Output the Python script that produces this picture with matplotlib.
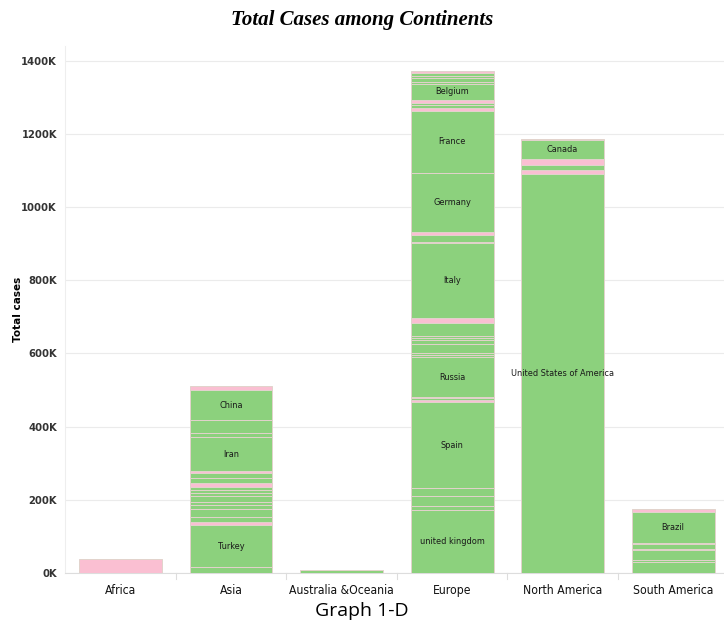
import matplotlib
matplotlib.use('Agg')
import matplotlib.pyplot as plt
import matplotlib.ticker as mtick
import matplotlib.transforms as mtrans

matplotlib.rcParams.update({'font.size': 9})

# continents along the x axis
continentes = ['Africa', 'Asia', 'Australia &Oceania', 'Europe', 'North America', 'South America']

# stacked segments per continent, bottom to top, in thousands of cases
# grupo: 0 = green, 1 = pink
africa_valores = [37]
africa_grupo = [1]
africa_nomes = ['']

asia_valores = [16, 115, 9, 14, 22, 10, 9, 14, 9, 9, 7, 13, 12, 14, 5, 93, 11, 35, 82, 13]
asia_grupo = [0, 0, 1, 0, 0, 0, 0, 0, 0, 0, 0, 1, 0, 0, 1, 0, 0, 0, 0, 1]
asia_nomes = ['', 'Turkey', '', '', '', '', '', '', '', '', '', '', '', '', '', 'Iran', '', '', 'China', '']

oceania_valores = [8]
oceania_grupo = [0]
oceania_nomes = ['']

europa_valores = [171, 11, 27, 22, 236, 5, 5, 5, 107, 7, 6, 23, 11, 7, 5, 36, 14, 203, 4, 18, 9,
                  161, 170, 7, 9, 4, 9, 45, 4, 11, 5, 9, 5]
europa_grupo = [0, 0, 0, 0, 0, 1, 0, 1, 0, 0, 0, 0, 0, 0, 0, 0, 1, 0, 0, 0, 1,
                0, 0, 1, 0, 0, 1, 0, 0, 0, 0, 0, 1]
europa_nomes = ['united kingdom', '', '', '', 'Spain', '', '', '', 'Russia', '', '', '', '', '', '', '', '', 'Italy',
                '', '', '', 'Germany', 'France', '', '', '', '', 'Belgium', '', '', '', '', '']

america_norte_valores = [1090, 12, 14, 14, 52, 3]
america_norte_grupo = [0, 1, 0, 1, 0, 1]
america_norte_nomes = ['United States of America', '', '', '', 'Canada', '']

america_sul_valores = [30, 5, 27, 3, 14, 4, 85, 7]
america_sul_grupo = [0, 0, 0, 0, 0, 0, 0, 1]
america_sul_nomes = ['', '', '', '', '', '', 'Brazil', '']

y_ticks = [0, 200, 400, 600, 800, 1000, 1200, 1400]

valores = [africa_valores, asia_valores, oceania_valores, europa_valores, america_norte_valores, america_sul_valores]
grupos = [africa_grupo, asia_grupo, oceania_grupo, europa_grupo, america_norte_grupo, america_sul_grupo]
nomes = [africa_nomes, asia_nomes, oceania_nomes, europa_nomes, america_norte_nomes, america_sul_nomes]

cores = {0: '#8CD17D', 1: '#FABFD2'}

fig = plt.figure(figsize=(7.24, 6.28), dpi=100)
ax = fig.add_axes([0.09, 0.0876, 0.91, 0.8392])

for i, continente in enumerate(continentes):
    base = 0
    for valor, grupo, nome in zip(valores[i], grupos[i], nomes[i]):
        ax.bar(i, valor, bottom=base, width=0.75, color=cores[grupo],
               edgecolor='#e2d3cc', linewidth=0.7, zorder=3)
        if nome:
            ax.text(i, base + valor / 2, nome, ha='center', va='center', fontsize=6.6,
                    family='DejaVu Sans', fontstretch='condensed', color='#1a1a1a', zorder=4)
        base += valor

ax.set_xlim(-0.5, 5.46)
ax.set_ylim(0, 1440)
ax.set_yticks(y_ticks)
ax.yaxis.set_major_formatter(mtick.FuncFormatter(lambda v, p: f'{int(v)}K'))
ax.set_xticks(range(len(continentes)))
ax.set_xticklabels(continentes, family='DejaVu Sans', fontstretch='condensed', fontsize=8.7,
                   color='#111111')
for lbl in ax.get_yticklabels():
    lbl.set_family('DejaVu Sans')
    lbl.set_fontstretch('condensed')
    lbl.set_fontsize(8)
    lbl.set_fontweight('bold')
    lbl.set_color('#333333')

# the 0K label sits a bit above the axis line in the original
primeiro = ax.get_yticklabels()[0]
primeiro.set_transform(primeiro.get_transform() + mtrans.ScaledTranslation(0, 7 / 72, fig.dpi_scale_trans))

ax.tick_params(axis='both', length=0)
ax.tick_params(axis='y', pad=6)
ax.tick_params(axis='x', pad=8)
ax.grid(axis='y', color='#ebebeb', linewidth=0.8, zorder=0)
for lado in ['top', 'right']:
    ax.spines[lado].set_visible(False)
ax.spines['left'].set_color('#eeeeee')
ax.spines['bottom'].set_color('#dddddd')

# little column dividers under the axis
trans = mtrans.blended_transform_factory(ax.transData, ax.transAxes)
for k in range(len(continentes) - 1):
    ax.plot([k + 0.5, k + 0.5], [0, -0.012], color='#dddddd', linewidth=0.8,
            transform=trans, clip_on=False)

ax.set_ylabel('Total cases', fontsize=7.5, fontweight='bold')
ax.yaxis.set_label_coords(-0.064, 0.5)

fig.text(0.5, 1 - 20 / 628, 'Total Cases among Continents', ha='center', va='center',
         family='Liberation Serif', fontsize=15, fontweight='bold', style='italic')
fig.text(0.5, 1 - 611 / 628, 'Graph 1-D', ha='center', va='center',
         family='Open Sans', fontsize=14)

plt.savefig('out.png', dpi=100)
plt.close()
